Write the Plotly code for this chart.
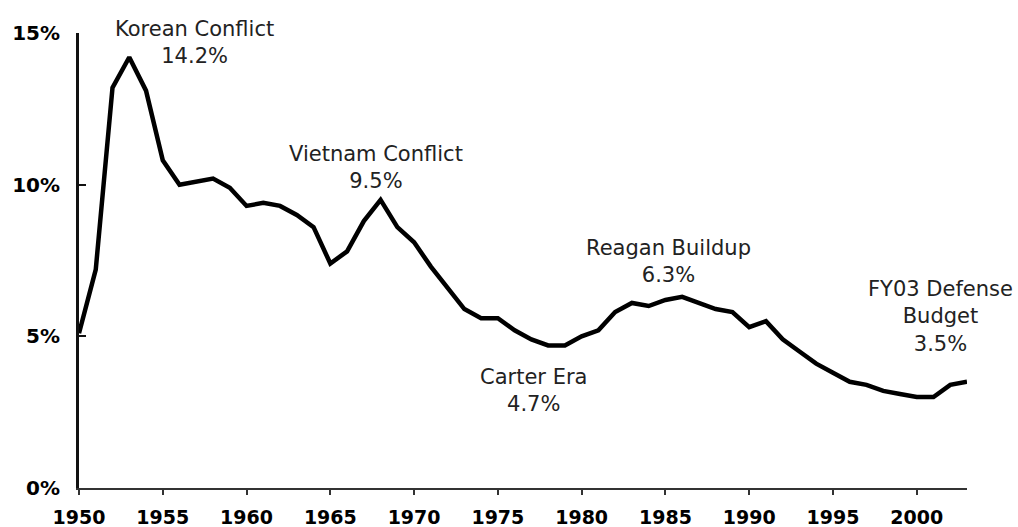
import plotly.graph_objects as go

years = list(range(1950, 2004))
outlays_pct_gdp = [
    5.1, 7.2, 13.2, 14.2, 13.1, 10.8, 10.0, 10.1, 10.2, 9.9,
    9.3, 9.4, 9.3, 9.0, 8.6, 7.4, 7.8, 8.8, 9.5, 8.6,
    8.1, 7.3, 6.6, 5.9, 5.6, 5.6, 5.2, 4.9, 4.7, 4.7,
    5.0, 5.2, 5.8, 6.1, 6.0, 6.2, 6.3, 6.1, 5.9, 5.8,
    5.3, 5.5, 4.9, 4.5, 4.1, 3.8, 3.5, 3.4, 3.2, 3.1,
    3.0, 3.0, 3.4, 3.5,
]

x_ticks = [1950, 1955, 1960, 1965, 1970, 1975, 1980, 1985, 1990, 1995, 2000]
y_ticks = [0, 5, 10, 15]
y_tick_labels = ["0%", "5%", "10%", "15%"]

annot_text = ["Korean Conflict<br>14.2%", "Vietnam Conflict<br>9.5%", "Carter Era<br>4.7%",
              "Reagan Buildup<br>6.3%", "FY03 Defense<br>Budget<br>3.5%"]
annot_x = [1956.9, 1967.7, 1977.1, 1985.2, 2001.4]
annot_y = [14.69, 10.58, 3.21, 7.48, 5.64]

fig = go.Figure()
fig.add_trace(go.Scatter(
    x=years, y=outlays_pct_gdp, mode="lines",
    line=dict(color="#000000", width=4.5),
    hoverinfo="skip", showlegend=False,
))

for t, ax, ay in zip(annot_text, annot_x, annot_y):
    fig.add_annotation(x=ax, y=ay, xref="x", yref="y", text=t, showarrow=False,
                       xanchor="center", yanchor="middle", align="center",
                       font=dict(family="DejaVu Sans", size=21, color="#222222"))

fig.update_layout(
    width=1018, height=527,
    margin=dict(l=79, r=51, t=33, b=39, autoexpand=False),
    paper_bgcolor="white", plot_bgcolor="white",
    showlegend=False,
)
fig.update_xaxes(
    range=[1950, 2003], tickvals=x_ticks, ticktext=[str(v) for v in x_ticks],
    showgrid=False, zeroline=False, showline=True, linecolor="#333333", linewidth=2,
    ticks="outside", ticklen=5, tickwidth=2, tickcolor="#333333",
    tickfont=dict(family="DejaVu Sans", size=19, color="#000000", weight="bold"),
    ticklabelstandoff=6, automargin=False,
)
fig.update_yaxes(
    range=[0, 15], tickvals=y_ticks, ticktext=y_tick_labels,
    showgrid=False, zeroline=False, showline=True, linecolor="#111111", linewidth=3,
    ticks="inside", ticklen=7, tickwidth=1.5, tickcolor="#111111",
    tickfont=dict(family="DejaVu Sans", size=20, color="#000000", weight="bold"),
    ticklabelstandoff=12, automargin=False,
)

fig.write_html("out.html", config={"displayModeBar": False},
               post_script="document.body.style.margin='0';document.body.style.overflow='hidden';")
